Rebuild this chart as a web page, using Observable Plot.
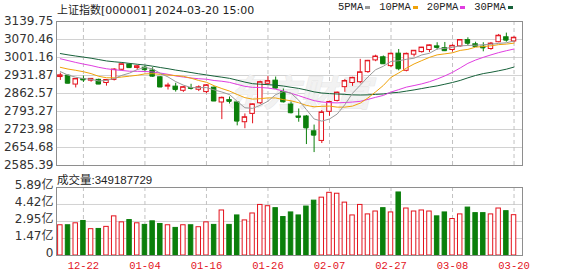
<!DOCTYPE html>
<html>
<head>
<meta charset="utf-8">
<script src="https://cdn.jsdelivr.net/npm/d3@7"></script>
<script src="https://cdn.jsdelivr.net/npm/@observablehq/plot@0.6"></script>
<style>
  html, body { margin: 0; padding: 0; background: #fff; }
  #chart { position: relative; width: 578px; height: 276px; overflow: hidden; }
  #chart svg { position: absolute; left: 0; }
  .lbl { position: absolute; white-space: nowrap; color: #222; line-height: 14px; }
  #title { left: 57px; top: 1px; font: 11px "DejaVu Sans", "Noto Sans CJK SC", sans-serif; }
  #legend { left: 338px; top: 1px; display: flex; align-items: center; gap: 9px;
            font: 10.5px "Liberation Mono", "DejaVu Sans Mono", monospace; }
  #legend .item { display: flex; align-items: center; }
  #legend .swatch { display: inline-block; width: 5px; height: 3px; margin-left: 2px; }
  #vol-label { left: 57px; top: 171px; font: 11.5px "Liberation Sans", "Noto Sans CJK SC", sans-serif; }
</style>
</head>
<body>
<div id="chart">
  <div id="title" class="lbl"></div>
  <div id="legend" class="lbl"></div>
  <div id="vol-label" class="lbl"></div>
</div>
<script>
// 上证指数 daily bars, 2023-12-19 .. 2024-03-20
const dates = ["12-19","12-20","12-21","12-22","12-25","12-26","12-27","12-28","12-29",
  "01-02","01-03","01-04","01-05","01-08","01-09","01-10","01-11","01-12","01-15","01-16",
  "01-17","01-18","01-19","01-22","01-23","01-24","01-25","01-26","01-29","01-30","01-31",
  "02-01","02-02","02-05","02-06","02-07","02-08","02-19","02-20","02-21","02-22","02-23",
  "02-26","02-27","02-28","02-29","03-01","03-04","03-05","03-06","03-07","03-08","03-11",
  "03-12","03-13","03-14","03-15","03-18","03-19","03-20"];

const open = [2926,2931,2897,2918,2912,2915,2903,2915,2954,2974,2961,2962,2951,2925,2889,2889,2873,2883,2877,2868,
  2885,2828,2837,2828,2752,2784,2825,2900,2912,2868,2820,2774,2774,2717,2680,2792,2834,2887,2903,2906,
  2945,2990,3002,2968,3016,2950,3012,3022,3030,3044,3037,3030,3044,3068,3052,3043,3034,3060,3079,3063];
const high = [2941,2934,2920,2930,2920,2918,2916,2958,2976,2977,2970,2968,2962,2927,2902,2902,2890,2898,2892,2897,
  2888,2849,2849,2830,2784,2822,2910,2928,2926,2880,2830,2803,2778,2741,2797,2833,2868,2916,2925,2994,
  2990,3010,3007,3018,3032,3018,3028,3040,3049,3058,3059,3050,3070,3077,3060,3058,3059,3090,3095,3081];
const low = [2913,2900,2884,2905,2906,2897,2891,2911,2950,2959,2952,2948,2925,2886,2876,2868,2867,2876,2870,2862,
  2832,2762,2822,2738,2727,2746,2820,2895,2880,2826,2784,2752,2666,2635.09,2670,2775,2830,2867,2890,2900,
  2940,2985,2975,2962,2950,2946,3003,3018,3020,3030,3024,3022,3041,3047,3040,3023,3029,3058,3060,3058];
const close = [2932.39,2902.11,2918.71,2914.78,2918.81,2898.87,2914.61,2954.70,2974.93,2962.28,2967.25,2954.35,
  2929.18,2887.54,2893.25,2877.70,2886.65,2881.98,2886.29,2893.99,2833.62,2845.78,2832.28,2756.34,2770.98,
  2820.77,2906.11,2910.22,2883.36,2830.53,2788.55,2770.74,2730.15,2702.19,2789.49,2829.70,2865.90,2910.54,
  2922.73,2944.02,2988.36,3004.88,2977.02,3015.48,2957.85,3015.17,3027.02,3039.31,3047.79,3039.93,3027.40,
  3046.02,3068.46,3055.94,3043.83,3038.23,3054.64,3084.93,3067.93,3077.11];

// 成交量 per day
const volume = [262000000,262000000,279000000,299000000,228000000,230000000,248000000,339000000,287000000,
  307000000,279000000,265000000,296000000,273000000,262000000,239000000,262000000,262000000,245000000,
  287000000,265000000,390000000,265000000,347000000,304000000,364000000,438000000,427000000,410000000,
  333000000,373000000,347000000,424000000,475000000,501000000,543000000,535000000,458000000,347000000,
  438000000,356000000,381000000,410000000,373000000,546000000,407000000,381000000,390000000,381000000,
  339000000,373000000,316000000,356000000,415000000,367000000,367000000,356000000,407000000,384000000,
  349187729];

// moving averages of the close
const ma5 = [2946.70,2933.37,2925.31,2919.76,2917.36,2910.66,2913.16,2920.35,2932.38,2941.08,2954.75,2962.70,
  2957.60,2940.12,2926.31,2908.40,2894.86,2885.42,2885.17,2885.32,2876.51,2868.33,2858.39,2832.40,2807.80,
  2805.23,2817.30,2832.88,2858.29,2870.20,2863.75,2836.68,2800.67,2764.43,2756.22,2764.45,2783.49,2819.56,
  2863.67,2894.58,2926.31,2954.11,2967.40,2985.95,2988.72,2994.08,2998.51,3010.97,3017.43,3033.84,3036.29,
  3040.09,3045.92,3047.55,3048.33,3050.50,3052.22,3055.51,3057.91,3064.57];
const ma10 = [2963.31,2956.63,2951.88,2946.40,2939.14,2928.68,2923.26,2922.83,2926.07,2929.22,2932.71,2937.93,
  2938.98,2936.25,2933.70,2931.58,2928.78,2921.51,2912.65,2905.82,2892.46,2881.60,2871.91,2858.79,2846.56,
  2840.87,2842.81,2845.64,2845.35,2839.00,2834.49,2826.99,2816.78,2811.36,2813.21,2814.10,2810.08,2810.12,
  2814.05,2825.40,2845.38,2868.80,2893.48,2924.81,2941.65,2960.20,2976.31,2989.18,3001.69,3011.28,3015.19,
  3019.30,3028.44,3032.49,3041.09,3043.39,3046.16,3050.72,3052.73,3056.45];
const ma20 = [2996.40,2989.32,2982.17,2975.86,2970.21,2963.23,2957.87,2954.13,2951.29,2948.26,2948.01,2947.28,
  2945.43,2941.33,2936.42,2930.13,2926.02,2922.17,2919.36,2917.52,2912.58,2909.76,2905.44,2897.52,2890.13,
  2886.22,2885.80,2883.57,2879.00,2872.41,2863.47,2854.29,2844.34,2835.07,2829.89,2827.49,2826.45,2827.88,
  2829.70,2832.20,2839.94,2847.89,2855.13,2868.09,2877.43,2887.15,2893.20,2899.65,2907.87,2918.34,2930.28,
  2944.05,2960.96,2978.65,2991.37,3001.79,3011.23,3019.95,3027.21,3033.87];
const ma30 = [3016.32,3011.31,3006.83,3002.69,2998.43,2993.19,2987.91,2984.71,2982.06,2978.52,2975.17,2972.19,
  2967.77,2962.66,2958.04,2952.68,2948.18,2943.25,2938.41,2934.11,2929.49,2925.38,2920.92,2913.81,2906.46,
  2900.38,2898.29,2896.66,2894.69,2891.35,2886.55,2882.17,2875.89,2868.80,2864.49,2862.18,2860.56,2859.09,
  2857.35,2856.74,2857.44,2859.13,2860.72,2864.99,2867.14,2871.72,2876.40,2881.65,2887.03,2891.89,2898.35,
  2905.03,2912.90,2922.89,2931.98,2939.23,2944.18,2950.01,2956.16,2964.38];

// axis ticks
const priceTicks = [3139.75, 3070.46, 3001.16, 2931.87, 2862.57, 2793.27, 2723.98, 2654.68, 2585.39];
const volTicks = [0, 147000000, 295000000, 442000000, 589000000];
const volTickLabels = ["0", "1.47亿", "2.95亿", "4.42亿", "5.89亿"];
const xTickLabels = ["12-22", "01-04", "01-16", "01-26", "02-07", "02-27", "03-08", "03-20"];

const titleText = "上证指数[000001] 2024-03-20  15:00";
const legendNames = ["5PMA", "10PMA", "20PMA", "30PMA"];
const legendColors = ["#9a9a9a", "#f0a30a", "#e03ee0", "#17613a"];

const RED = "#e3121c", GREEN = "#0b7f0b";
const rows = dates.map((date, i) => ({
  i, date, open: open[i], high: high[i], low: low[i], close: close[i], volume: volume[i],
  ma5: ma5[i], ma10: ma10[i], ma20: ma20[i], ma30: ma30[i]
}));
const up = d => d.close >= d.open;
const half = 0.29;
const xTickIdx = xTickLabels.map(l => dates.indexOf(l));
const xDomain = [-0.5, 60.1];
const chart = document.getElementById("chart");

document.getElementById("title").textContent = titleText;
const legend = document.getElementById("legend");
legendNames.forEach((name, k) => {
  const item = document.createElement("span");
  item.className = "item";
  item.append(name);
  const sw = document.createElement("span");
  sw.className = "swatch";
  sw.style.background = legendColors[k];
  item.append(sw);
  legend.append(item);
});
document.getElementById("vol-label").textContent = "成交量:" + volume[volume.length - 1];

const baseStyle = {fontFamily: "'DejaVu Sans', 'Noto Sans CJK SC', sans-serif", fontSize: "12px", color: "#333", background: "transparent"};

// price panel: candles + moving averages
const price = Plot.plot({
  width: 578, height: 176,
  marginTop: 21, marginBottom: 11, marginLeft: 56, marginRight: 56,
  style: baseStyle,
  x: {type: "linear", domain: xDomain, axis: null},
  y: {domain: [priceTicks[priceTicks.length - 1], priceTicks[0]]},
  color: {type: "identity"},
  marks: [
    Plot.gridY(priceTicks, {stroke: "#d2d2d2", strokeOpacity: 1}),
    Plot.gridX(xTickIdx, {stroke: "#c2c2c2", strokeOpacity: 1, strokeDasharray: "4,3"}),
    Plot.text(["东方财富"], {text: d => d, frameAnchor: "middle", dx: 10, dy: 1, fontSize: 36,
      fontStyle: "italic", fontWeight: "bold", fill: "#f2f2f2", stroke: "#e6e6e6", strokeWidth: 1}),
    Plot.ruleX(rows, {x: "i", y1: "low", y2: "high", stroke: d => up(d) ? RED : GREEN}),
    Plot.rect(rows, {x1: d => d.i - half, x2: d => d.i + half, y1: "open", y2: "close",
      fill: d => up(d) ? "#fff" : GREEN, stroke: d => up(d) ? RED : GREEN}),
    Plot.ruleY(rows, {x1: d => d.i - half, x2: d => d.i + half, y: "close", stroke: d => up(d) ? RED : GREEN}),
    Plot.lineY(rows, {x: "i", y: "ma30", stroke: legendColors[3], strokeWidth: 1}),
    Plot.lineY(rows, {x: "i", y: "ma20", stroke: legendColors[2], strokeWidth: 1}),
    Plot.lineY(rows, {x: "i", y: "ma10", stroke: legendColors[1], strokeWidth: 1}),
    Plot.lineY(rows, {x: "i", y: "ma5", stroke: legendColors[0], strokeWidth: 1}),
    Plot.axisY(priceTicks, {tickSize: 0, tickPadding: 3, tickFormat: d => d.toFixed(2), label: null, fill: "#333"}),
    Plot.frame({stroke: "#8e8e8e"})
  ]
});
price.style.top = "0px";
chart.append(price);

// volume panel
const vol = Plot.plot({
  width: 578, height: 106,
  marginTop: 17, marginBottom: 21, marginLeft: 56, marginRight: 56,
  style: baseStyle,
  x: {type: "linear", domain: xDomain},
  y: {domain: [0, volTicks[volTicks.length - 1]]},
  color: {type: "identity"},
  marks: [
    Plot.gridY(volTicks, {stroke: "#d2d2d2", strokeOpacity: 1}),
    Plot.gridX(xTickIdx, {stroke: "#c2c2c2", strokeOpacity: 1, strokeDasharray: "4,3"}),
    Plot.rectY(rows, {x1: d => d.i - half, x2: d => d.i + half, y: "volume",
      fill: d => up(d) ? "#fff" : GREEN, stroke: d => up(d) ? RED : GREEN}),
    Plot.axisY(volTicks, {tickSize: 0, tickPadding: 3, dy: -2, label: null, fill: "#333",
      tickFormat: (d, k) => volTickLabels[volTicks.indexOf(d)]}),
    Plot.axisX(xTickIdx, {tickSize: 0, tickPadding: 6, label: null, fill: RED,
      fontFamily: "'Liberation Mono', 'DejaVu Sans Mono', monospace", fontSize: 10.5,
      tickFormat: i => dates[i]}),
    Plot.frame({stroke: "#8e8e8e"})
  ]
});
vol.style.top = "170px";
chart.append(vol);
</script>
</body>
</html>
